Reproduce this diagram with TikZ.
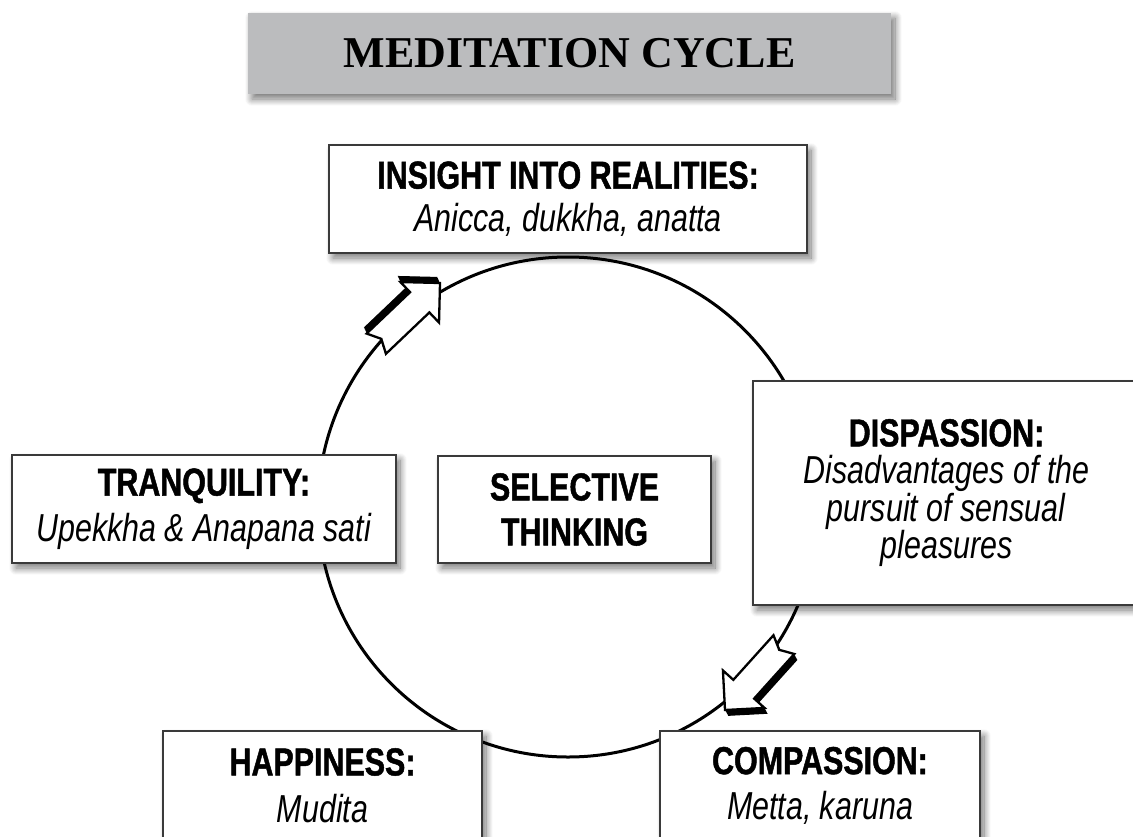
\documentclass[tikz,border=0pt]{standalone}
\usepackage{fontspec}
\setmainfont{Liberation Serif}
\newfontfamily\nar[FakeStretch=0.78, BoldFeatures={FakeBold=1.2}]{Liberation Sans}
\usetikzlibrary{shadows.blur}
\definecolor{titlegray}{HTML}{BBBCBE}
\definecolor{boxline}{HTML}{3A3A3A}
\begin{document}
\begin{tikzpicture}[x=1pt,y=-1pt,
  softshadow/.style={blur shadow={shadow xshift=4pt, shadow yshift=-5pt, shadow blur radius=7pt, shadow blur steps=14, shadow opacity=55}},
  box/.style={draw=boxline, line width=1.3pt, fill=white, softshadow, align=center, inner sep=0pt, font=\nar\fontsize{39}{45}\selectfont},
  arrowface/.style={fill=white, draw=black, line width=2.3pt, line join=miter},
  blockarrow/.pic={
    \foreach \k in {1,...,10} {
      \fill[black, shift={(0.22*\k,-0.63*\k)}] (0,0) -- (-28,-28) -- (-28,-14) -- (-88,-14) -- (-81,0) -- (-88,14) -- (-28,14) -- (-28,28) -- cycle;
    }
    \filldraw[arrowface] (0,0) -- (-28,-28) -- (-28,-14) -- (-88,-14) -- (-81,0) -- (-88,14) -- (-28,14) -- (-28,28) -- cycle;
  }
]
\useasboundingbox (0,0) rectangle (1133,836);
\clip (0,0) rectangle (1133,836);

% title
\node[fill=titlegray, softshadow, minimum width=643pt, minimum height=81pt, inner sep=0pt,
      font=\bfseries\fontsize{44}{50}\selectfont] (title) at (569.5,53.5) {MEDITATION CYCLE};

% cycle
\node[circle, draw=black, line width=3pt, minimum size=500pt, inner sep=0pt] (cycle) at (568,507) {};

% block arrows on the cycle
\pic[rotate=43.6] (uparrow) at (440,283) {blockarrow};
\pic[rotate=228] (downarrow) at (725,710) {blockarrow};

% boxes
\node[box, minimum width=478pt, minimum height=108pt, font=\nar\fontsize{39}{43}\selectfont] (insight) at (568,199)
  {\textbf{INSIGHT INTO REALITIES:}\\\textit{Anicca, dukkha, anatta}};
\node[box, minimum width=384pt, minimum height=108pt, font=\nar\fontsize{39}{46}\selectfont] (tranquility) at (204,509)
  {\textbf{TRANQUILITY:}\\\textit{Upekkha \& Anapana sati}};
\node[box, minimum width=273pt, minimum height=107pt] (selective) at (574.5,509.5)
  {\textbf{SELECTIVE}\\\textbf{THINKING}};
\node[box, minimum width=387pt, minimum height=224pt, font=\nar\fontsize{39}{37.5}\selectfont] (dispassion) at (946.5,493)
  {\textbf{DISPASSION:}\\\textit{Disadvantages of the}\\\textit{pursuit of sensual}\\\textit{pleasures}};
\node[box, minimum width=319pt, minimum height=109pt, font=\nar\fontsize{39}{47}\selectfont] (happiness) at (322.5,785.5)
  {\textbf{HAPPINESS:}\\\textit{Mudita}};
\node[box, minimum width=320pt, minimum height=109pt] (compassion) at (820,785.5)
  {\textbf{COMPASSION:}\\\textit{Metta, karuna}};
\end{tikzpicture}
\end{document}
